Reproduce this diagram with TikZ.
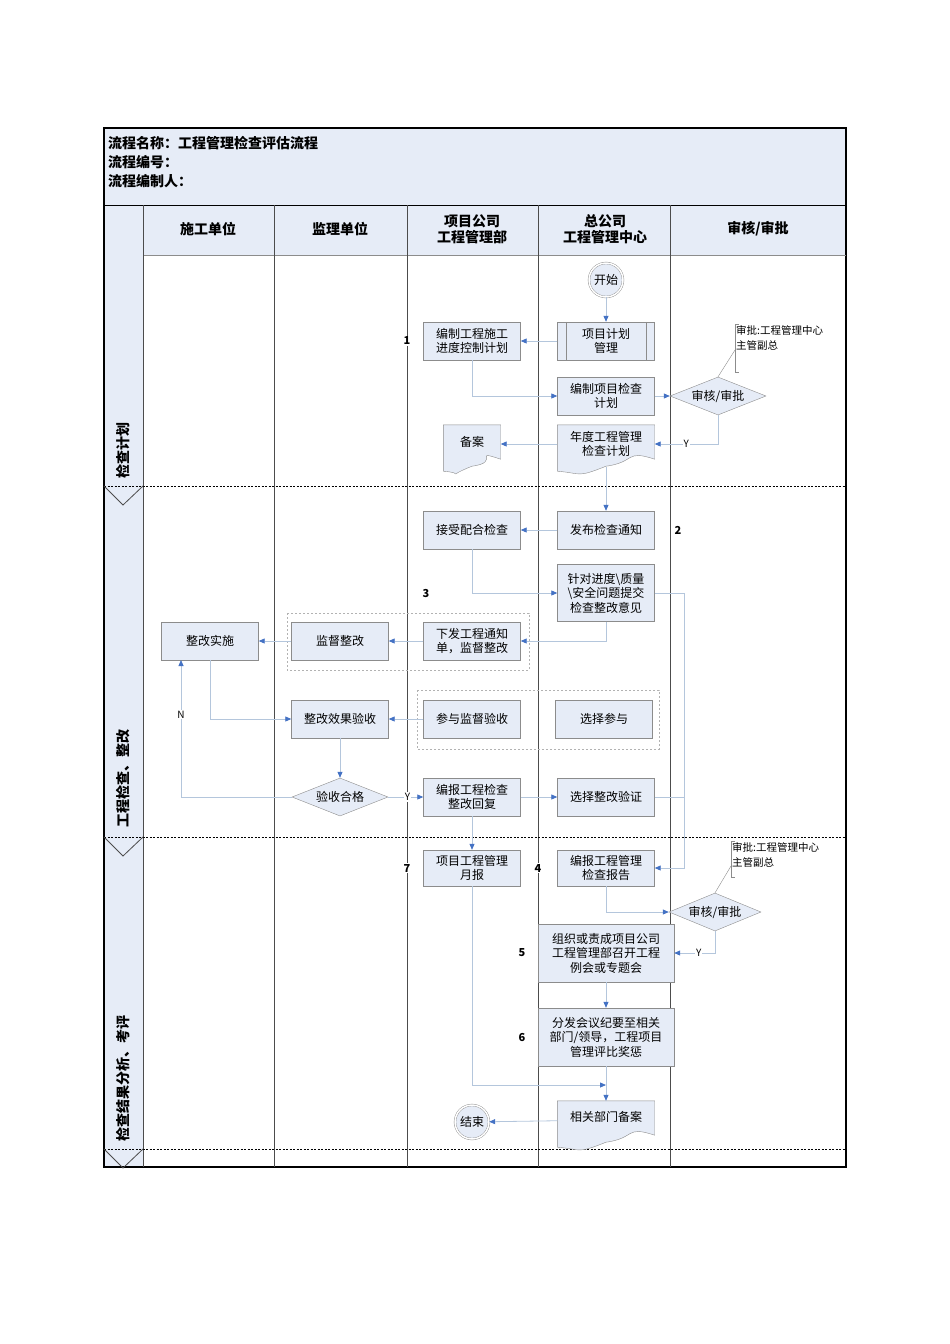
\documentclass[tikz,border=0pt]{standalone}
\usepackage{fontspec}
\setmainfont{Noto Sans CJK SC}
\usetikzlibrary{shapes.geometric,arrows.meta,calc}
\definecolor{boxfill}{HTML}{E6ECF7}
\definecolor{boxline}{HTML}{8C8C8C}
\definecolor{conn}{HTML}{B4C6DC}
\definecolor{tipc}{HTML}{4472C4}
\tikzset{
 box/.style={draw=boxline,fill=boxfill,minimum width=97pt,minimum height=38pt,align=center,font=\fontsize{12}{14.5}\selectfont,inner sep=1pt},
 wbox/.style={box,minimum width=136pt,minimum height=58pt},
 doc/.style={minimum width=97pt,minimum height=38pt,align=center,font=\fontsize{12}{14.5}\selectfont,inner sep=1pt},
 dia/.style={diamond,aspect=2.4,draw=boxline,fill=boxfill,inner sep=0pt,minimum width=96pt,minimum height=38pt,font=\fontsize{12}{14}\selectfont},
 term/.style={circle,draw=boxline,double=white,double distance=1.5pt,fill=boxfill,minimum size=34pt,inner sep=0pt,font=\fontsize{12}{14}\selectfont},
 arr/.style={draw=conn,line width=0.8pt,-{Triangle[length=6pt,width=5pt,color=tipc]}},
 ln/.style={draw=conn,line width=0.8pt},
 num/.style={font=\bfseries\fontsize{11}{12}\selectfont,fill=white,inner sep=1pt},
 yn/.style={font=\fontsize{10}{12}\selectfont,fill=white,inner sep=1pt},
 hdr/.style={font=\bfseries\fontsize{14}{16}\selectfont,align=center},
 note/.style={font=\fontsize{10.5}{15}\selectfont,align=left,anchor=north west,inner sep=1pt},
 grp/.style={draw=gray!60,dashed,dash pattern=on 2pt off 2pt},
}
\newcommand{\docpath}[1]{\fill[boxfill] (#1.north west) -- (#1.north east) -- ($(#1.south east)+(0,-4)$) .. controls +(-30,-10) and +(30,-4) .. ($(#1.south)+(0,3)$) .. controls +(-30,12) and +(25,2) .. ($(#1.south west)+(0,8)$) -- cycle;
\draw[boxline] (#1.north west) -- (#1.north east) -- ($(#1.south east)+(0,-4)$) .. controls +(-30,-10) and +(30,-4) .. ($(#1.south)+(0,3)$) .. controls +(-30,12) and +(25,2) .. ($(#1.south west)+(0,8)$) -- cycle;}
\begin{document}
\begin{tikzpicture}[x=1pt,y=-1pt]
\useasboundingbox (0,0) rectangle (950,1344);
% frame
\draw[line width=1.2pt] (104,128) rectangle (846,1167);
\fill[boxfill] (105,129) rectangle (845,205);
\fill[boxfill] (105,205) rectangle (845,255);
\fill[boxfill] (105,255) rectangle (143,1166);
\draw[line width=1pt] (104,205) -- (846,205);
\draw[boxline] (143,255) -- (846,255);
\foreach \x in {143,274,407,538,670} \draw[black!70] (\x,205) -- (\x,1167);
\foreach \y in {486,837,1149} {\draw[line width=1pt,dash pattern=on 2pt off 1.5pt] (104,\y) -- (846,\y);
 \draw[black!70,line width=0.8pt] (104,\y) -- (123,\y+19) -- (143,\y);}
\node[anchor=north west,font=\bfseries\fontsize{14}{19}\selectfont,align=left,inner sep=0pt] (title) at (108,136) {流程名称：工程管理检查评估流程\\流程编号：\\流程编制人：};
\node[hdr] (h1) at (208,229) {施工单位};
\node[hdr] (h2) at (340,229) {监理单位};
\node[hdr] (h3) at (472,229) {项目公司\\工程管理部};
\node[hdr] (h4) at (605,229) {总公司\\工程管理中心};
\node[hdr] (h5) at (758,229) {审核/审批};
\node[hdr,rotate=90] (p1) at (123,450) {检查计划};
\node[hdr,rotate=90] (p2) at (123,778) {工程检查、整改};
\node[hdr,rotate=90] (p3) at (123,1078) {检查结果分析、考评};
% phase 1
\node[term] (start) at (606,280) {开始};
\node[box] (xmjh) at (606,341) {项目计划\\管理};
\draw[boxline] ($(xmjh.north west)+(9,0)$) -- ($(xmjh.south west)+(9,0)$) ($(xmjh.north east)+(-9,0)$) -- ($(xmjh.south east)+(-9,0)$);
\node[box] (bzjd) at (472,341) {编制工程施工\\进度控制计划};
\node[box] (bzxm) at (606,396) {编制项目检查\\计划};
\node[dia] (sh1) at (718,396) {审核/审批};
\node[note] (n1) at (735,324) {审批:工程管理中心\\主管副总};
\draw[boxline] (739,324) -- (735,324) -- (735,372) -- (739,372);
\draw[boxline] (sh1.north) -- (735,350);
\node[doc] (ndjh) at (606,444) {};
\docpath{ndjh}
\node[doc] (ndjht) at (606,444) {年度工程管理\\检查计划};
\node[doc,minimum width=57pt] (beian) at (472,444) {};
\docpath{beian}
\node[doc] (beiant) at (472,442) {备案};
\node[num] (l1) at (407,341) {1};
\draw[arr] (start) -- (xmjh);
\draw[arr] (xmjh) -- (bzjd);
\draw[arr] (bzjd.south) |- (bzxm.west);
\draw[arr] (bzxm) -- (sh1);
\draw[arr] (sh1.south) |- (ndjh.east) node[yn,pos=0.75] {Y};
\draw[arr] (ndjh) -- (beian);
% phase 2
\node[box] (fbtz) at (606,530) {发布检查通知};
\node[box] (jspj) at (472,530) {接受配合检查};
\draw[arr] (ndjh.south) ++(0,4) -- (fbtz.north);
\node[box,minimum height=57pt] (zdjd) at (606,593) {针对进度\textbackslash 质量\\\textbackslash 安全问题提交\\检查整改意见};
\draw[grp] (287,613) rectangle (529,670);
\draw[grp] (417,690) rectangle (659,749);
\node[box] (xfgc) at (472,641) {下发工程通知\\单，监督整改};
\node[box] (jddg) at (340,641) {监督整改};
\node[box] (zgss) at (210,641) {整改实施};
\node[box] (zgxg) at (340,719) {整改效果验收};
\node[box] (cyjd) at (472,719) {参与监督验收};
\node[box] (xzcy) at (604,719) {选择参与};
\node[dia] (ysgg) at (340,797) {验收合格};
\node[box] (bbgc) at (472,797) {编报工程检查\\整改回复};
\node[box] (xzzg) at (606,797) {选择整改验证};
\node[num] (l2) at (678,530) {2};
\node[num] (l3) at (426,593) {3};
\draw[arr] (fbtz) -- (jspj);
\draw[arr] (jspj.south) |- (zdjd.west);
\draw[arr] (zdjd.south) |- (xfgc.east);
\draw[arr] (xfgc) -- (jddg);
\draw[arr] (jddg) -- (zgss);
\draw[arr] (zgss.south) |- (zgxg.west);
\draw[arr] (cyjd) -- (zgxg);
\draw[arr] (zgxg) -- (ysgg);
\draw[arr] (ysgg.west) -| (181,660) node[yn,pos=0.8] {N};
\draw[arr] (ysgg) -- (bbgc) node[yn,pos=0.55] {Y};
\draw[arr] (bbgc) -- (xzzg);
% phase 3
\node[box,minimum height=36pt] (ydbb) at (472,868) {项目工程管理\\月报};
\node[box,minimum height=36pt] (bzbg) at (606,868) {编报工程管理\\检查报告};
\node[dia,minimum width=92pt] (sh2) at (715,912) {审核/审批};
\node[note] (n2) at (731,841) {审批:工程管理中心\\主管副总};
\draw[boxline] (735,841) -- (731,841) -- (731,877) -- (735,877);
\draw[boxline] (sh2.north) -- (731,866);
\node[wbox] (zzhy) at (606,953) {组织或责成项目公司\\工程管理部召开工程\\例会或专题会};
\node[wbox] (ffhy) at (606,1037) {分发会议纪要至相关\\部门/领导，工程项目\\管理评比奖惩};
\node[doc] (xgbm) at (606,1120) {};
\docpath{xgbm}
\node[doc] (xgbmt) at (606,1117) {相关部门备案};
\node[term] (end) at (472,1122) {结束};
\node[num] (l7) at (407,868) {7};
\node[num] (l4) at (538,868) {4};
\node[num] (l5) at (522,953) {5};
\node[num] (l6) at (522,1037) {6};
\draw[ln] (zdjd.east) -- (684,593);
\draw[ln] (xzzg.east) -- (684,797);
\draw[arr] (684,593) |- (bzbg.east);
\draw[arr] (bbgc.south) -- (ydbb.north);
\draw[arr] (bzbg.south) |- (sh2.west);
\draw[arr] (sh2.south) |- (zzhy.east) node[yn,pos=0.7] {Y};
\draw[arr] (zzhy) -- (ffhy);
\draw[arr] (ffhy) -- (xgbm);
\draw[arr] (ydbb.south) |- (606,1085);
\draw[arr] (xgbm) -- (end);
\end{tikzpicture}
\end{document}
